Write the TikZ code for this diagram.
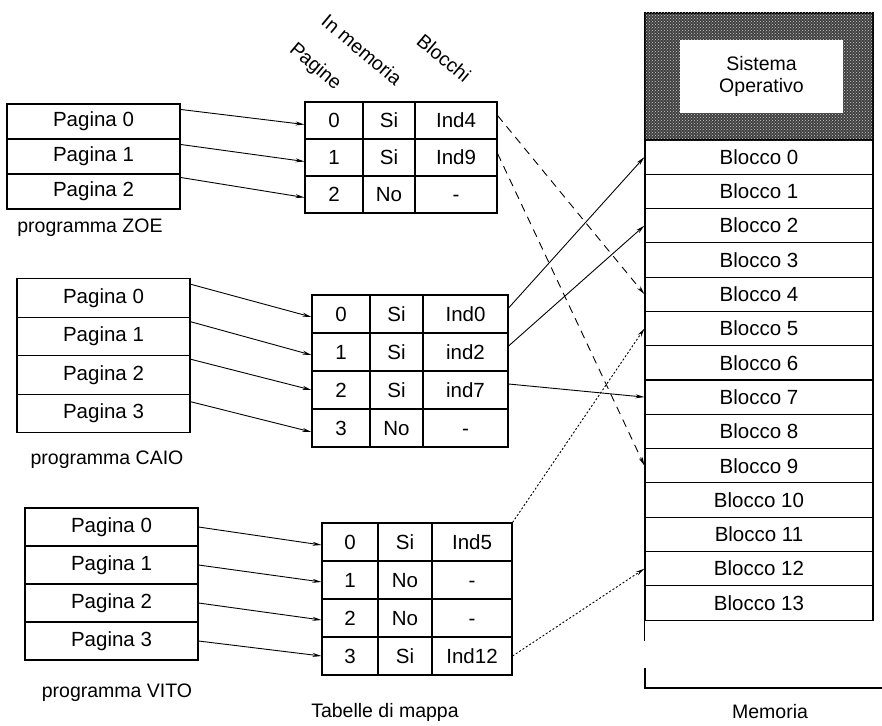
\documentclass[tikz,border=0pt]{standalone}
\usepackage{fontspec}
\setmainfont{Liberation Sans}
\usetikzlibrary{arrows.meta,patterns}
\begin{document}
\begin{tikzpicture}[x=1pt,y=-1pt,
  every node/.style={font=\fontsize{19.5}{22}\selectfont, inner sep=0pt},
  big/.style={font=\fontsize{20.5}{22}\selectfont},
  pcell/.style={draw, big, line width=1.1pt, minimum width=173pt, minimum height=#1},
  tcell/.style={draw, big, line width=1.1pt, minimum height=#1, text height=14.5pt, text depth=0pt},
  mcell/.style={draw, big, line width=1.1pt, minimum width=228pt, minimum height=34.3pt},
  conn/.style={-{Stealth[length=9pt,width=4pt]}, line width=0.9pt},
  dconn/.style={conn, dash pattern=on 8pt off 6pt},
  pconn/.style={conn, dash pattern=on 2pt off 2pt},
  hdr/.style={rotate=-40}
]
\useasboundingbox (0,0) rectangle (882,725);

% ---------- programs ----------
\foreach \r in {0,1,2}
  \node[pcell=35pt] (zp\r) at (93.5, {121.5+35*\r}) {Pagina \r};
\node (lz) at (90,228) {programma ZOE};

\foreach \r in {0,1,2,3}
  \node[pcell=38.5pt] (cp\r) at (103.5, {298+38.5*\r}) {Pagina \r};
\node (lc) at (107,460) {programma CAIO};

\foreach \r in {0,1,2,3}
  \node[pcell=38pt] (vp\r) at (111.5, {527+38*\r}) {Pagina \r};
\node (lv) at (117,693) {programma VITO};

% ---------- headers ----------
\node[hdr] (hp) at (315,67) {Pagine};
\node[hdr] (hm) at (362,50) {In memoria};
\node[hdr] (hb) at (444,58) {Blocchi};

% ---------- map tables ----------
\foreach \r/\a/\b/\c in {0/0/Si/Ind4,1/1/Si/Ind9,2/2/No/-} {
  \node[tcell=37pt, minimum width=58pt] (zt\r a) at (334, {120.5+37*\r}) {\a};
  \node[tcell=37pt, minimum width=52pt] (zt\r b) at (389, {120.5+37*\r}) {\b};
  \node[tcell=37pt, minimum width=82pt] (zt\r c) at (456, {120.5+37*\r}) {\c};
}
\foreach \r/\a/\b/\c in {0/0/Si/Ind0,1/1/Si/ind2,2/2/Si/ind7,3/3/No/-} {
  \node[tcell=38pt, minimum width=58pt] (ct\r a) at (341, {314+38*\r}) {\a};
  \node[tcell=38pt, minimum width=53pt] (ct\r b) at (396.5, {314+38*\r}) {\b};
  \node[tcell=38pt, minimum width=85pt] (ct\r c) at (465.5, {314+38*\r}) {\c};
}
\foreach \r/\a/\b/\c in {0/0/Si/Ind5,1/1/No/-,2/2/No/-,3/3/Si/Ind12} {
  \node[tcell=38pt, minimum width=56pt] (vt\r a) at (350, {542+38*\r}) {\a};
  \node[tcell=38pt, minimum width=54pt] (vt\r b) at (405, {542+38*\r}) {\b};
  \node[tcell=38pt, minimum width=80pt] (vt\r c) at (472, {542+38*\r}) {\c};
}
\node (lt) at (385,712) {Tabelle di mappa};

% ---------- memory ----------
\node[draw, line width=1.1pt, fill=black!75,
      postaction={pattern=crosshatch dots, pattern color=white!80!black},
      minimum width=228pt, minimum height=127pt] (os) at (759,76.5) {};
\node[fill=white, minimum width=163pt, minimum height=73pt, align=center]
      (so) at (761.5,76.5) {Sistema\\Operativo};
\foreach \k in {0,...,13}
  \node[mcell] (m\k) at (759, {157+34.3*\k}) {Blocco \k};
\draw[line width=1.1pt] (m13.south west) -- ++(0,20);
\draw[line width=1.1pt] (645,668) -- (645,688) -- (882,688);
\node (lm) at (770,712) {Memoria};

% ---------- program -> table ----------
\draw[conn] ([yshift=-6pt]zp0.north east) -- ([yshift=-4pt]zt0a.west);
\draw[conn] ([yshift=-6pt]zp1.north east) -- ([yshift=-4pt]zt1a.west);
\draw[conn] ([yshift=-4pt]zp2.north east) -- ([yshift=-3pt]zt2a.west);

\draw[conn] ([yshift=-6pt]cp0.north east) -- ([yshift=-3pt]ct0a.west);
\draw[conn] ([yshift=-5pt]cp1.north east) -- ([yshift=-3pt]ct1a.west);
\draw[conn] ([yshift=-4pt]cp2.north east) -- (ct2a.west);
\draw[conn] ([yshift=-8pt]cp3.north east) -- ([yshift=-4pt]ct3a.west);

\draw[conn] (vp0.east) -- ([yshift=-3pt]vt0a.west);
\draw[conn] (vp1.east) -- ([yshift=-2pt]vt1a.west);
\draw[conn] (vp2.east) -- ([yshift=-2pt]vt2a.west);
\draw[conn] (vp3.east) -- (vt3a.west);

% ---------- table -> memory ----------
\draw[dconn] ([yshift=5pt]zt0c.east) -- (m4.west);
\draw[dconn] ([yshift=4pt]zt1c.east) -- (m9.west);
\draw[conn] ([yshift=6pt]ct0c.east) -- (m0.west);
\draw[conn] ([yshift=6pt]ct1c.east) -- (m2.west);
\draw[conn] ([yshift=6pt]ct2c.east) -- (m7.west);
\draw[pconn] (vt0c.north east) -- (m5.west);
\draw[pconn] (vt3c.east) -- (m12.west);
\end{tikzpicture}
\end{document}
